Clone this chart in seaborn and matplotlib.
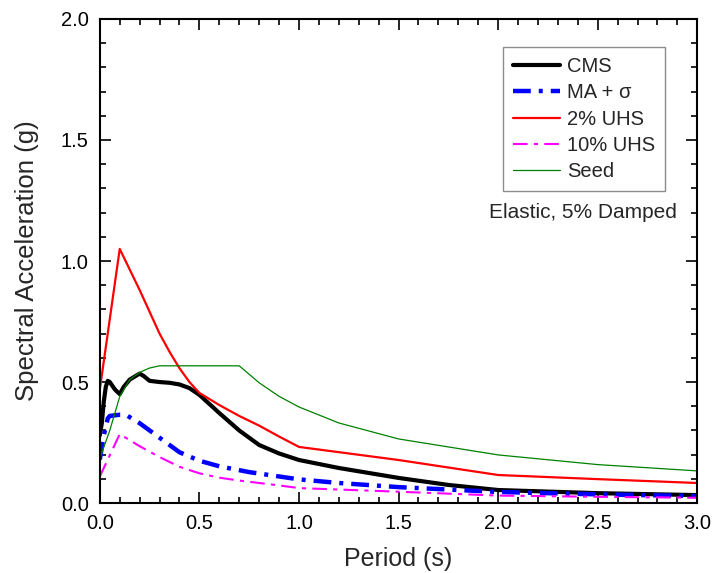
import matplotlib
matplotlib.use("Agg")
import matplotlib.pyplot as plt
from matplotlib.ticker import MultipleLocator, FormatStrFormatter
import seaborn as sns
import pandas as pd

# ---- data ----
cms_T = [0.0, 0.01, 0.02, 0.03, 0.04, 0.05, 0.075, 0.1, 0.12, 0.15, 0.2, 0.22, 0.25,
         0.3, 0.35, 0.4, 0.45, 0.5, 0.6, 0.7, 0.8, 0.9, 1.0, 1.2, 1.5, 1.75, 2.0, 2.5, 3.0]
cms_Sa = [0.28, 0.33, 0.42, 0.48, 0.505, 0.50, 0.47, 0.45, 0.48, 0.51, 0.535, 0.525, 0.505,
          0.50, 0.497, 0.49, 0.475, 0.447, 0.372, 0.30, 0.24, 0.205, 0.178, 0.145, 0.104, 0.075, 0.054, 0.041, 0.033]

ma_T = [0.0, 0.02, 0.04, 0.05, 0.1, 0.13, 0.2, 0.3, 0.4, 0.5, 0.6, 0.75, 1.0, 1.2, 1.5, 2.0, 2.5, 3.0]
ma_Sa = [0.18, 0.28, 0.35, 0.36, 0.365, 0.365, 0.33, 0.27, 0.21, 0.175, 0.152, 0.128, 0.098, 0.083, 0.066, 0.046, 0.036, 0.029]

uhs2_T = [0.0, 0.1, 0.2, 0.3, 0.35, 0.4, 0.45, 0.5, 0.6, 0.7, 0.8, 0.9, 1.0, 1.5, 2.0, 2.5, 3.0]
uhs2_Sa = [0.47, 1.05, 0.88, 0.70, 0.625, 0.557, 0.50, 0.455, 0.405, 0.36, 0.32, 0.275, 0.232, 0.178, 0.116, 0.099, 0.083]

uhs10_T = [0.0, 0.1, 0.2, 0.3, 0.4, 0.5, 0.6, 0.7, 0.8, 0.9, 1.0, 1.5, 2.0, 2.5, 3.0]
uhs10_Sa = [0.11, 0.285, 0.235, 0.19, 0.15, 0.123, 0.105, 0.093, 0.083, 0.073, 0.062, 0.047, 0.031, 0.026, 0.022]

seed_T = [0.0, 0.05, 0.1, 0.15, 0.2, 0.25, 0.3, 0.7, 0.8, 0.9, 1.0, 1.2, 1.5, 2.0, 2.5, 3.0]
seed_Sa = [0.185, 0.30, 0.44, 0.51, 0.54, 0.558, 0.567, 0.567, 0.497, 0.441, 0.397, 0.331, 0.265, 0.199, 0.159, 0.133]

labels = ["CMS", "MA + \u03c3", "2% UHS", "10% UHS", "Seed"]

sns.set_theme(style="ticks")
plt.rcParams['font.family'] = ['Liberation Sans', 'DejaVu Sans']

fig = plt.figure(figsize=(7.13, 5.73), dpi=100)
ax = fig.add_axes([0.140, 0.122, 0.838, 0.845])

series = [
    (cms_T, cms_Sa, labels[0], dict(color="black", linewidth=3.0, linestyle="-")),
    (ma_T, ma_Sa, labels[1], dict(color="#0000ff", linewidth=3.2, linestyle=(0, (4.0, 1.8, 0.9, 1.8)))),
    (uhs2_T, uhs2_Sa, labels[2], dict(color="#ff0000", linewidth=1.6, linestyle="-")),
    (uhs10_T, uhs10_Sa, labels[3], dict(color="#ff00ff", linewidth=1.5, linestyle=(0, (7, 3, 2, 3)))),
    (seed_T, seed_Sa, labels[4], dict(color="#008000", linewidth=0.9, linestyle="-")),
]
for T, Sa, lab, st in series:
    df = pd.DataFrame({"Period": T, "Sa": Sa})
    sns.lineplot(data=df, x="Period", y="Sa", ax=ax, label=lab, sort=False, **st)

ax.set_xlim(0, 3.0)
ax.set_ylim(0, 2.0)
ax.xaxis.set_major_locator(MultipleLocator(0.5))
ax.xaxis.set_minor_locator(MultipleLocator(0.1))
ax.yaxis.set_major_locator(MultipleLocator(0.5))
ax.yaxis.set_minor_locator(MultipleLocator(0.1))
ax.xaxis.set_major_formatter(FormatStrFormatter('%.1f'))
ax.yaxis.set_major_formatter(FormatStrFormatter('%.1f'))
ax.tick_params(which="both", direction="in", top=True, right=True, colors="black",
               labelsize=14.5, width=1.2)
ax.tick_params(which="major", length=8, pad=8)
ax.tick_params(which="minor", length=4.5)
for sp in ax.spines.values():
    sp.set_linewidth(1.5)
    sp.set_color("black")

ax.set_xlabel("Period (s)", fontsize=18, labelpad=10)
ax.set_ylabel("Spectral Acceleration (g)", fontsize=18.5, labelpad=16)

leg = ax.legend(loc="upper right", bbox_to_anchor=(0.946, 0.942), borderaxespad=0,
                fontsize=14.5, frameon=True, fancybox=False, edgecolor="#707070",
                handlelength=2.3, labelspacing=0.36, handletextpad=0.35,
                borderpad=0.5)
leg.get_frame().set_linewidth(1.0)

ax.text(0.966, 0.60, "Elastic, 5% Damped", transform=ax.transAxes,
        ha="right", va="center", fontsize=15)

fig.savefig("out.png", dpi=100)
